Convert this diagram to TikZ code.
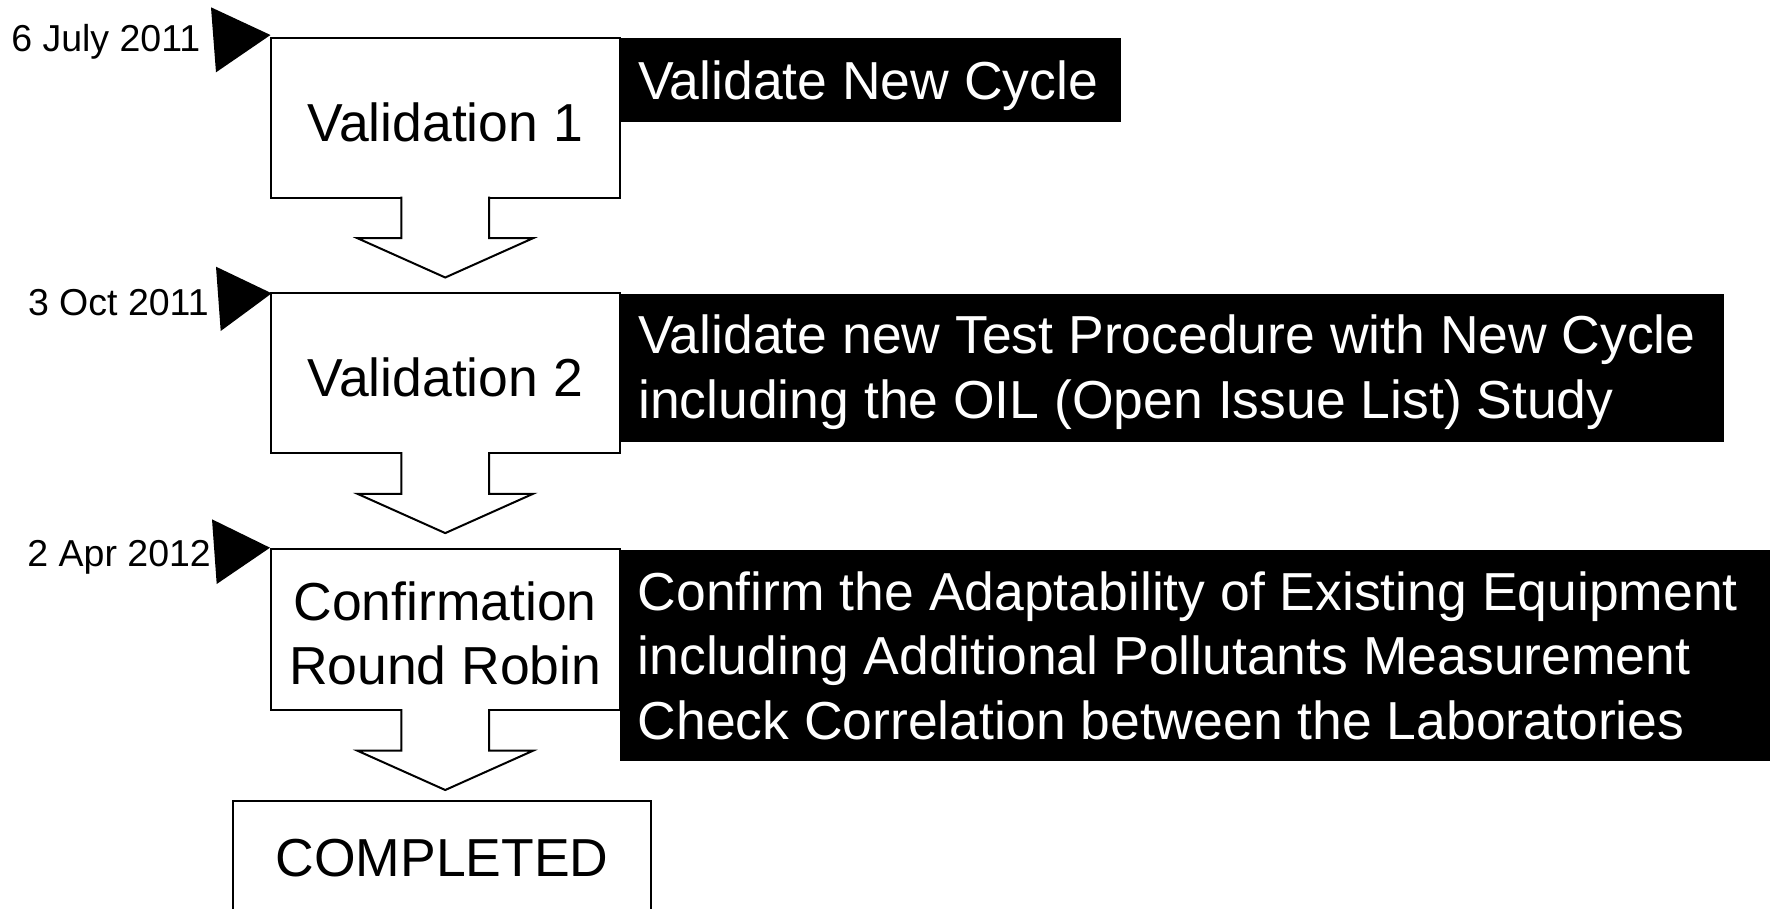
\documentclass[tikz,border=0pt]{standalone}
\usepackage{fontspec}
\setmainfont{Liberation Sans}
\begin{document}
\begin{tikzpicture}[x=1pt,y=-1pt,
  box/.style={draw, line width=2pt, minimum width=348.9pt, minimum height=159.8pt,
    inner sep=0pt, outer sep=0pt, anchor=north west},
  bigtext/.style={font=\fontsize{53.5}{63.6}\selectfont, inner sep=0pt, align=center},
  datetext/.style={font=\fontsize{37.5}{45}\selectfont, inner sep=0pt, anchor=base west},
  blackbox/.style={fill=black, inner sep=0pt, outer sep=0pt, anchor=north west},
  wtext/.style={text=white, font=\fontsize{53.5}{64.5}\selectfont, inner sep=0pt,
    align=left, anchor=north west},
  barrow/.style={draw, fill=white, line width=2pt, line join=miter},
  marker/.style={fill=black}
]
\useasboundingbox (0,0) rectangle (1770,908);

% black description boxes
\node[blackbox, minimum width=501pt, minimum height=84pt] (b1) at (620,38.3) {};
\node[blackbox, minimum width=1103.5pt, minimum height=147.7pt] (b2) at (620.5,294) {};
\node[blackbox, minimum width=1150pt, minimum height=211pt] (b3) at (620,550) {};

% step boxes
\node[box] (v1) at (270.7,37.7) {};
\node[box] (v2) at (270.7,293.3) {};
\node[box, minimum height=160.7pt] (v3) at (270.7,549.3) {};
\node[box, minimum width=417.4pt, minimum height=200pt] (done) at (233.3,800.7) {};

% block arrows
\draw[barrow] ([shift={(-43.7,-1)}]v1.south) -- ++(0,41.7) -- ++(-44,0) -- ++(87.8,39.3)
  -- ++(87.8,-39.3) -- ++(-44,0) -- ++(0,-41.7);
\draw[barrow] ([shift={(-43.7,-1)}]v2.south) -- ++(0,41.7) -- ++(-44,0) -- ++(87.8,39.3)
  -- ++(87.8,-39.3) -- ++(-44,0) -- ++(0,-41.7);
\draw[barrow] ([shift={(-43.7,-1)}]v3.south) -- ++(0,41.7) -- ++(-44,0) -- ++(87.8,39.3)
  -- ++(87.8,-39.3) -- ++(-44,0) -- ++(0,-41.7);

% box texts
\node[bigtext] (v1t) at ([yshift=-5pt]v1.center) {Validation 1};
\node[bigtext] (v2t) at ([yshift=-4.5pt]v2.center) {Validation 2};
\node[bigtext] (v3t) at ([yshift=-4pt]v3.center) {Confirmation\\Round Robin};
\node[bigtext] (donet) at (442,857.7) {COMPLETED};

% description texts
\node[wtext] (b1t) at ([shift={(18,21)}]b1.north west) {\rule{0pt}{40pt}Validate New Cycle};
\node[wtext] (b2t) at ([shift={(17.5,19.5)}]b2.north west)
  {\rule{0pt}{40pt}Validate new Test Procedure with New Cycle\\including the OIL (Open Issue List) Study};
\node[wtext] (b3t) at ([shift={(17.5,20)}]b3.north west)
  {\rule{0pt}{40pt}Confirm the Adaptability of Existing Equipment\\including Additional Pollutants Measurement\\Check Correlation between the Laboratories};

% date markers
\fill[marker] ([shift={(-59.7,-30.4)}]v1.north west) -- ([shift={(-0.2,-2.7)}]v1.north west)
  -- ([shift={(-54.7,34.6)}]v1.north west) -- cycle;
\fill[marker] ([shift={(-54.7,-26.6)}]v2.north west) -- ([shift={(1,0)}]v2.north west)
  -- ([shift={(-50,37.7)}]v2.north west) -- cycle;
\fill[marker] ([shift={(-58.7,-30)}]v3.north west) -- ([shift={(-0.7,-1.6)}]v3.north west)
  -- ([shift={(-54,34.7)}]v3.north west) -- cycle;

% dates
\node[datetext] (d1) at (11.1,51.7) {6 July 2011};
\node[datetext] (d2) at (27.8,315) {3 Oct 2011};
\node[datetext] (d3) at (27.2,566.7) {2 Apr 2012};
\end{tikzpicture}
\end{document}
